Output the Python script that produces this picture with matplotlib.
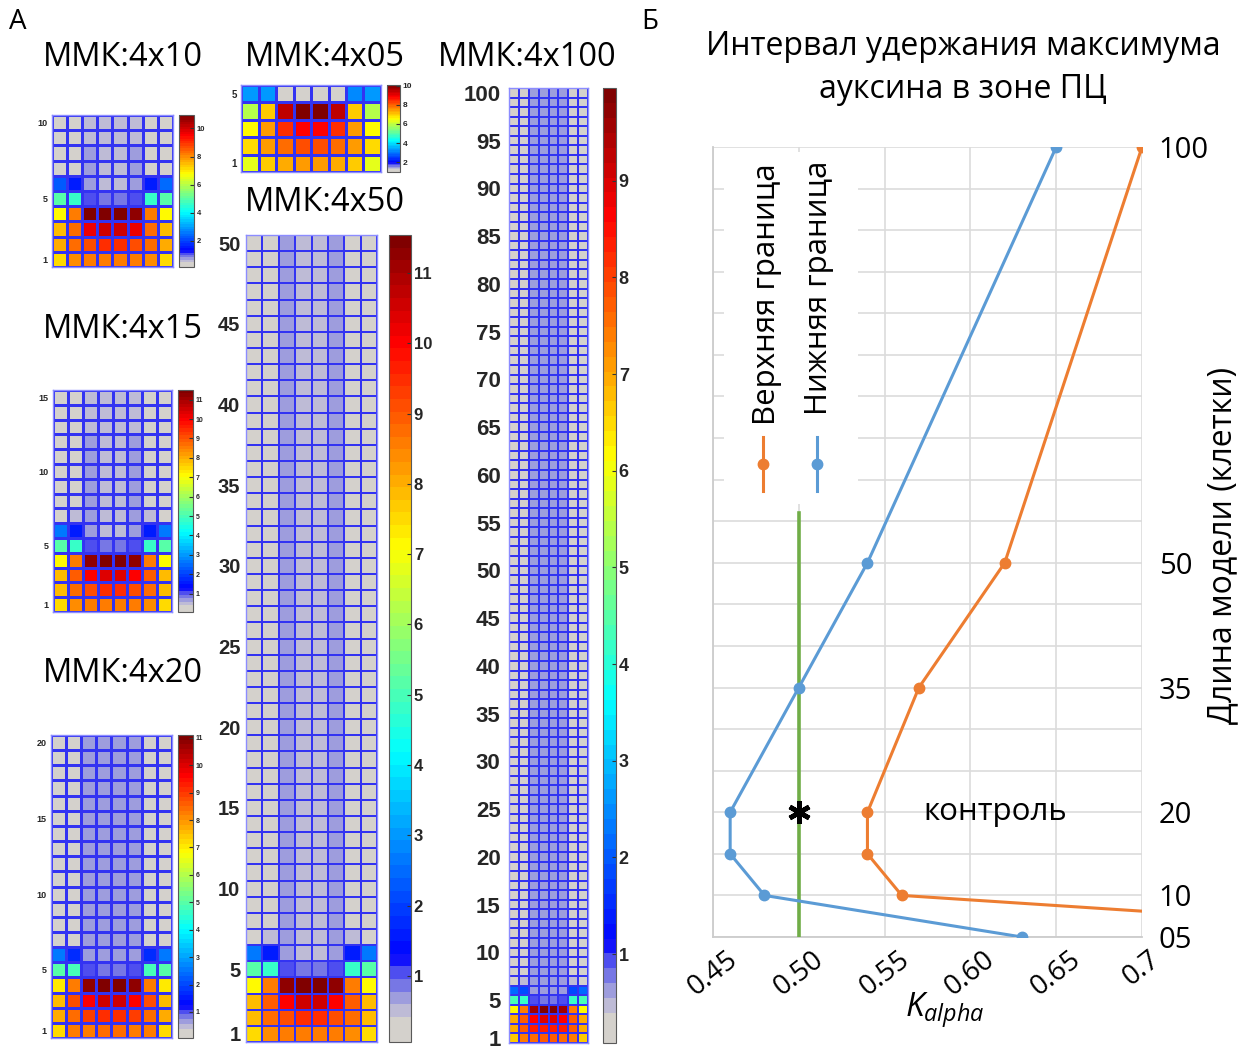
import numpy as np
import matplotlib.pyplot as plt
from matplotlib.colors import LinearSegmentedColormap
from matplotlib.patches import Rectangle

plt.rcParams['font.family'] = ['Open Sans', 'DejaVu Sans']
plt.rcParams['mathtext.fontset'] = 'custom'
plt.rcParams['mathtext.it'] = 'Open Sans:italic'
plt.rcParams['mathtext.rm'] = 'Open Sans'

W, H = 1254, 1046

# ---------------- panel A: auxin maps, rows listed from cell 1 upwards ----------------
mmk10_rows = [
    [7.2, 8.0, 8.1, 8.2, 8.2, 8.1, 8.0, 7.2],
    [7.7, 8.3, 8.7, 9.0, 9.0, 8.7, 8.3, 7.7],
    [7.5, 8.4, 9.6, 9.95, 9.95, 9.6, 8.4, 7.5],
    [6.8, 8.2, 10.8, 10.95, 10.9, 10.7, 8.2, 6.8],
    [4.9, 4.7, 1.0, 0.85, 0.85, 1.0, 4.7, 4.9],
    [2.3, 1.65, 0.69, 0.55, 0.55, 0.69, 1.65, 2.45],
    [0.15, 0.15, 0.72, 0.55, 0.55, 0.72, 0.15, 0.15],
    [0.15, 0.15, 0.72, 0.55, 0.55, 0.72, 0.15, 0.15],
    [0.15, 0.15, 0.65, 0.55, 0.55, 0.65, 0.15, 0.15],
    [0.15, 0.15, 0.55, 0.5, 0.5, 0.55, 0.15, 0.15],
]
mmk05_rows = [
    [6.33, 7.0, 7.25, 7.5, 7.5, 7.25, 7.0, 6.33],
    [6.9, 7.5, 7.85, 8.1, 8.1, 7.85, 7.5, 6.9],
    [6.6, 7.5, 8.5, 8.85, 8.85, 8.5, 7.5, 6.6],
    [5.9, 7.0, 9.5, 10.0, 10.1, 9.5, 7.0, 5.9],
    [3.3, 3.3, 0.95, 0.95, 0.95, 0.95, 3.2, 3.3],
]
mmk15_rows = [
    [7.5, 8.4, 8.5, 8.6, 8.6, 8.5, 8.4, 7.5],
    [7.9, 8.7, 9.1, 9.4, 9.4, 9.1, 8.7, 7.9],
    [7.8, 8.9, 10.0, 10.4, 10.4, 10.0, 8.9, 7.8],
    [7.1, 8.5, 11.2, 11.5, 11.4, 11.2, 8.5, 7.1],
    [5.1, 4.8, 0.97, 0.8, 0.8, 0.97, 4.8, 5.1],
    [2.6, 1.6, 0.65, 0.5, 0.5, 0.65, 1.6, 2.6],
    [0.05, 0.42, 0.64, 0.5, 0.5, 0.64, 0.42, 0.05],
    [0.05, 0.05, 0.64, 0.5, 0.5, 0.64, 0.05, 0.05],
    [0.05, 0.05, 0.64, 0.5, 0.5, 0.64, 0.05, 0.05],
    [0.05, 0.05, 0.64, 0.5, 0.5, 0.64, 0.05, 0.05],
    [0.05, 0.05, 0.64, 0.5, 0.5, 0.64, 0.05, 0.05],
    [0.05, 0.05, 0.64, 0.5, 0.5, 0.64, 0.05, 0.05],
    [0.05, 0.05, 0.55, 0.47, 0.47, 0.55, 0.05, 0.05],
    [0.05, 0.05, 0.55, 0.47, 0.47, 0.55, 0.05, 0.05],
    [0.05, 0.05, 0.55, 0.47, 0.47, 0.55, 0.05, 0.05],
]
mmk20_base = [
    [7.3, 8.2, 8.3, 8.4, 8.4, 8.3, 8.2, 7.3],
    [7.7, 8.5, 8.9, 9.2, 9.2, 8.9, 8.5, 7.7],
    [7.6, 8.7, 9.7, 10.1, 10.1, 9.7, 8.7, 7.6],
    [7.0, 8.3, 10.9, 11.1, 11.05, 10.9, 8.3, 7.0],
    [5.0, 4.85, 0.94, 0.77, 0.77, 0.94, 4.85, 5.0],
    [2.58, 1.72, 0.62, 0.6, 0.6, 0.62, 1.72, 2.58],
]
mmk20_upper = [0.05, 0.05, 0.64, 0.62, 0.62, 0.64, 0.05, 0.05]
mmk20_rows = mmk20_base + [mmk20_upper] * 14

mmk50_base = [
    [7.5, 8.4, 8.5, 8.6, 8.6, 8.5, 8.4, 7.5],
    [7.9, 8.7, 9.1, 9.4, 9.4, 9.1, 8.7, 7.9],
    [7.8, 8.9, 10.1, 10.5, 10.5, 10.1, 8.9, 7.8],
    [7.1, 8.5, 11.2, 11.54, 11.5, 11.2, 8.5, 7.1],
    [5.2, 4.8, 0.97, 0.8, 0.8, 0.97, 4.8, 5.2],
    [2.6, 1.6, 0.62, 0.55, 0.55, 0.62, 1.6, 2.6],
    [0.06, 0.46, 0.62, 0.58, 0.58, 0.62, 0.46, 0.06],
]
mmk50_upper = [0.06, 0.06, 0.63, 0.58, 0.58, 0.63, 0.06, 0.06]
mmk50_rows = mmk50_base + [mmk50_upper] * 43

mmk100_base = [
    [6.65, 7.42, 7.55, 7.67, 7.67, 7.55, 7.42, 6.65],
    [6.9, 7.67, 8.3, 8.4, 8.4, 8.3, 7.67, 6.9],
    [6.9, 7.67, 8.7, 9.0, 9.0, 8.7, 7.67, 6.9],
    [6.15, 7.42, 9.6, 9.96, 9.9, 9.6, 7.42, 6.15],
    [4.37, 4.11, 0.87, 0.72, 0.72, 0.87, 4.11, 4.37],
    [2.21, 1.83, 0.62, 0.57, 0.57, 0.62, 1.83, 2.21],
    [0.08, 0.42, 0.62, 0.57, 0.57, 0.62, 0.42, 0.08],
]
mmk100_upper = [0.08, 0.08, 0.62, 0.57, 0.57, 0.62, 0.08, 0.08]
mmk100_rows = mmk100_base + [mmk100_upper] * 93

# ---------------- panel B: interval of auxin maximum retention ----------------
model_len = [5, 10, 15, 20, 35, 50, 100]
k_lower = [0.63, 0.48, 0.46, 0.46, 0.50, 0.54, 0.65]
k_upper = [0.93, 0.56, 0.54, 0.54, 0.57, 0.62, 0.70]
len_ticks = [5, 10, 20, 35, 50, 100]
len_labels = ['05', '10', '20', '35', '50', '100']
k_ticks = [0.45, 0.50, 0.55, 0.60, 0.65, 0.70]
k_labels = ['0.45', '0.50', '0.55', '0.60', '0.65', '0.7']
control_k = 0.50
control_len = 20
control_top = 56

# MATLAB-like map: grey -> lavender -> blue, then jet
cmap = LinearSegmentedColormap.from_list('mmk', [
    (0.0, (0.83, 0.82, 0.80)), (0.02, (0.83, 0.82, 0.80)),
    (0.035, (0.72, 0.71, 0.85)), (0.05, (0.60, 0.60, 0.87)),
    (0.065, (0.45, 0.45, 0.90)), (0.08, (0.30, 0.30, 0.94)),
    (0.10, (0.0, 0.0, 1.0)), (0.357, (0.0, 1.0, 1.0)),
    (0.614, (1.0, 1.0, 0.0)), (0.871, (1.0, 0.0, 0.0)),
    (1.0, (0.5, 0.0, 0.0))], N=64)

fig = plt.figure(figsize=(W / 100, H / 100), dpi=100)


def px_rect(x0, y0, x1, y1):
    return [x0 / W, 1 - y1 / H, (x1 - x0) / W, (y1 - y0) / H]


def draw_map(box, cbox, rows, clim, row_ticks, cb_ticks, fs, cfs, lw, pad):
    data = np.array(rows)
    n = data.shape[0]
    ax = fig.add_axes(px_rect(*box))
    mesh = ax.pcolormesh(np.arange(9), np.arange(n + 1) + 0.5, data, cmap=cmap,
                         vmin=clim[0], vmax=clim[1],
                         edgecolors=(0.2, 0.2, 0.95), linewidth=lw)
    ax.set_xlim(0, 8)
    ax.set_ylim(0.5, n + 0.5)
    ax.set_xticks([])
    ax.set_yticks(row_ticks)
    ax.set_yticklabels([str(t) for t in row_ticks], fontsize=fs, fontweight='bold',
                       family='Liberation Sans', color=(0.15, 0.15, 0.15))
    ax.tick_params(length=0, pad=pad)
    for s in ax.spines.values():
        s.set_color((0.55, 0.55, 1.0))
        s.set_linewidth(1.0)
    cax = fig.add_axes(px_rect(*cbox))
    cb = fig.colorbar(mesh, cax=cax, ticks=cb_ticks)
    cb.ax.set_yticklabels([str(t) for t in cb_ticks], fontsize=cfs, fontweight='bold',
                          family='Liberation Sans', color=(0.15, 0.15, 0.15))
    cb.ax.tick_params(direction='in', length=3, width=0.8, color=(0.2, 0.2, 0.2), pad=2)
    cb.outline.set_edgecolor((0.35, 0.35, 0.35))
    cb.outline.set_linewidth(0.8)


draw_map((52, 115, 173, 267), (179, 115, 194, 267), mmk10_rows, (0.15, 10.95),
         [1, 5, 10], [2, 4, 6, 8, 10], 6.5, 5.5, 0.8, 3)
draw_map((241, 85, 381, 172), (387, 85, 400, 172), mmk05_rows, (0.95, 10.1),
         [1, 5], [2, 4, 6, 8, 10], 7, 6, 0.8, 3)
draw_map((53, 390, 172, 612), (178, 390, 193, 612), mmk15_rows, (0.05, 11.5),
         [1, 5, 10, 15], list(range(1, 12)), 6.5, 5, 0.8, 3)
draw_map((51, 735, 172, 1038), (178, 735, 193, 1038), mmk20_rows, (0.05, 11.1),
         [1, 5, 10, 15, 20], list(range(1, 12)), 6.5, 5, 0.8, 3)
draw_map((246, 235, 377, 1042), (389, 235, 411, 1042), mmk50_rows, (0.06, 11.54),
         [1] + list(range(5, 51, 5)), list(range(1, 12)), 14.5, 12, 1.1, 4)
draw_map((509, 88, 588, 1043), (603, 88, 616, 1043), mmk100_rows, (0.08, 9.96),
         [1] + list(range(5, 101, 5)), list(range(1, 10)), 16, 13, 1.3, 6)

for label, (cx, cy) in [('ММК:4x10', (123, 57)), ('ММК:4x05', (325, 57)),
                        ('ММК:4x100', (527, 57)), ('ММК:4x50', (325, 202)),
                        ('ММК:4x15', (123, 330)), ('ММК:4x20', (123, 674))]:
    fig.text(cx / W, 1 - cy / H, label, fontsize=23.5, ha='center', va='center')

fig.text(18 / W, 1 - 22 / H, 'А', fontsize=20, ha='center', va='center')
fig.text(650 / W, 1 - 22 / H, 'Б', fontsize=20, ha='center', va='center')

# ---------------- panel B ----------------
ax = fig.add_axes(px_rect(713, 147, 1142, 937))
blue = '#5B9BD5'
orange = '#ED7D31'
green = '#70AD47'
ax.plot([control_k, control_k], [model_len[0], control_top], color=green, lw=2.6, zorder=3)
ax.plot(k_lower, model_len, color=blue, lw=2.2, marker='o', ms=7.5, zorder=4)
ax.plot(k_upper, model_len, color=orange, lw=2.2, marker='o', ms=7.5, zorder=4)
ax.plot([control_k], [control_len], marker=(6, 2, 0), ms=16, mew=3.4, color='black', zorder=5)
ax.text(0.6145, control_len, 'контроль', fontsize=22.5, ha='center', va='center')

ax.set_xlim(0.45, 0.70)
ax.set_ylim(5, 100)
ax.set_xticks(k_ticks)
ax.set_xticklabels(k_labels, rotation=38, fontsize=20, ha='center', va='top')
ax.set_yticks(len_ticks)
ax.set_yticklabels(len_labels, fontsize=21)
ax.set_yticks(np.arange(5, 101, 5), minor=True)
ax.yaxis.tick_right()
ax.tick_params(which='both', length=0)
ax.tick_params(axis='y', pad=12)
ax.tick_params(axis='x', pad=6)
ax.grid(True, which='both', color=(0.86, 0.86, 0.86), lw=1.2)
ax.set_axisbelow(True)
for side in ['top', 'right']:
    ax.spines[side].set_visible(False)
for side in ['left', 'bottom']:
    ax.spines[side].set_color((0.8, 0.8, 0.8))
    ax.spines[side].set_linewidth(1.3)

ax.yaxis.set_label_position('right')
ax.set_ylabel('Длина модели (клетки)', fontsize=23, rotation=90)
ax.yaxis.set_label_coords(1.149, 0.496)
ax.set_xlabel(r'$K_{alpha}$', fontsize=24, va='center')
ax.xaxis.set_label_coords(0.541, -0.092)

# rotated legend in a white box
ax.add_patch(Rectangle((0.026, 0.548), 0.312, 0.446, transform=ax.transAxes,
                       facecolor='white', edgecolor='none', zorder=1))
ax.text(0.126, 0.648, 'Верхняя граница', rotation=90, fontsize=22.5,
        ha='center', va='bottom', transform=ax.transAxes, zorder=6)
ax.text(0.246, 0.661, 'Нижняя граница', rotation=90, fontsize=22.5,
        ha='center', va='bottom', transform=ax.transAxes, zorder=6)
ax.plot([0.116, 0.116], [0.565, 0.633], color=orange, lw=2.2, transform=ax.transAxes, zorder=6)
ax.plot([0.116], [0.599], 'o', color=orange, ms=7.5, transform=ax.transAxes, zorder=6)
ax.plot([0.243, 0.243], [0.565, 0.633], color=blue, lw=2.2, transform=ax.transAxes, zorder=6)
ax.plot([0.243], [0.599], 'o', color=blue, ms=7.5, transform=ax.transAxes, zorder=6)

fig.text(963 / W, 1 - 68 / H, 'Интервал удержания максимума\nауксина в зоне ПЦ',
         fontsize=23, ha='center', va='center', linespacing=1.4)

fig.savefig('out.png', dpi=100)
